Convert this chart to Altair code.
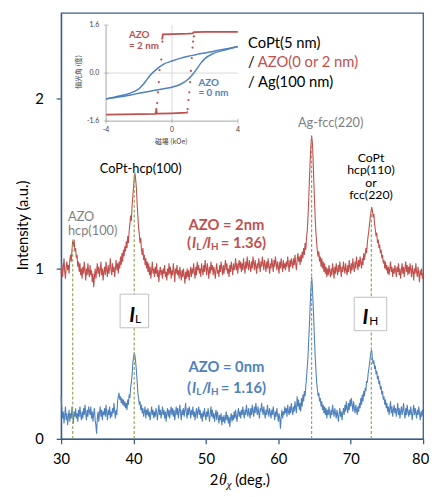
import altair as alt
import pandas as pd
import numpy as np

# ---------------- main XRD data (intensity x100), 2theta = 30.0 .. 80.0 step 0.1
TWO_THETA_START = 30.0
TWO_THETA_STEP = 0.1

red_vals = [
    97,103,95,100,106,98,94,101,104,99,
    102,97,105,108,104,111,116,113,117,110,
    112,106,108,101,104,98,103,96,100,94,
    101,97,104,99,93,100,96,103,98,95,
    102,96,99,92,97,89,95,100,94,98,
    103,97,101,95,99,104,96,100,93,98,
    101,96,104,99,95,102,97,100,106,99,
    96,103,98,101,95,100,105,99,103,97,
    104,100,107,102,109,104,111,107,113,110,
    116,112,119,115,122,126,131,128,137,142,
    148,153,156,152,147,138,131,124,120,115,
    118,111,108,112,105,108,102,106,100,104,
    98,103,96,101,94,99,104,97,100,95,
    101,97,103,95,99,92,98,101,96,99,
    94,100,97,102,95,98,93,100,96,103,
    97,101,94,99,96,103,98,92,100,97,
    102,96,99,94,101,97,93,99,95,100,
    96,91,98,94,100,95,99,93,97,101,
    95,100,97,103,98,94,101,96,104,99,
    102,97,100,95,103,99,96,102,98,105,
    100,96,103,99,94,101,97,104,99,102,
    96,101,98,94,100,103,97,99,95,102,
    98,104,100,96,102,97,101,105,99,103,
    97,100,95,102,98,104,100,96,103,99,
    101,106,99,103,97,102,105,100,104,98,
    103,99,106,101,97,104,100,107,102,99,
    105,101,98,104,100,107,103,99,105,101,
    97,103,100,106,102,98,104,101,107,103,
    99,105,102,98,104,100,106,101,97,103,
    100,106,102,98,105,101,107,103,99,104,
    101,97,104,100,106,102,98,105,100,103,
    99,104,101,107,102,98,105,101,106,103,
    100,106,102,108,103,99,105,109,104,107,
    102,108,104,110,106,112,108,115,111,118,
    122,130,140,152,163,172,178,174,165,152,
    140,129,121,115,110,107,110,104,107,101,
    106,100,104,98,103,97,101,95,100,96,
    102,98,95,100,96,103,99,94,101,97,
    103,99,96,102,98,104,100,95,101,98,
    104,100,97,103,99,96,102,98,105,101,
    97,103,99,106,101,98,104,100,107,103,
    99,105,101,107,103,100,106,102,109,105,
    108,112,109,115,119,122,126,130,133,136,
    134,130,132,126,123,119,121,115,117,112,
    114,109,111,106,108,103,105,100,104,99,
    102,97,101,96,100,104,98,101,95,100,
    97,102,99,95,101,98,103,96,100,94,
    99,103,97,101,95,100,104,98,102,96,
    101,97,103,99,95,102,98,93,100,97,
    103,98,95,101,97,92,99,96,100,94,
    97,
]

blue_vals = [
    25,18,12,16,9,14,19,11,15,8,
    13,17,10,15,12,19,14,9,16,13,
    18,12,15,10,17,13,19,14,11,16,
    12,18,14,20,15,11,17,13,19,16,
    14,19,12,16,10,15,18,11,8,3,
    12,16,10,15,19,13,17,11,16,14,
    18,13,20,15,11,17,14,19,12,16,
    13,18,15,21,16,12,17,14,22,25,
    27,23,25,21,24,20,23,19,22,18,
    21,17,23,20,26,24,30,33,37,44,
    48,50,49,45,40,34,27,24,20,22,
    17,20,15,18,13,16,19,12,17,14,
    18,13,16,11,15,19,14,17,12,16,
    13,18,15,11,16,20,14,17,12,15,
    19,14,17,12,16,10,15,18,13,17,
    12,16,19,14,18,13,17,11,15,19,
    14,18,12,16,20,15,11,17,14,18,
    13,17,21,15,12,18,14,19,16,12,
    17,14,19,13,16,11,15,18,12,16,
    19,14,17,12,15,10,16,13,18,14,
    11,16,13,18,14,10,15,19,13,17,
    12,15,10,14,17,11,16,13,9,14,
    11,15,8,13,10,14,9,12,16,11,
    14,9,13,7,12,15,10,14,11,16,
    12,17,13,10,15,18,13,16,12,17,
    14,19,15,12,17,14,20,16,13,18,
    15,12,18,14,20,16,13,19,15,21,
    17,14,19,15,12,18,16,21,17,14,
    19,15,12,17,14,20,16,13,18,15,
    12,17,14,19,15,11,16,13,18,14,
    10,15,12,6,13,17,12,16,14,19,
    15,18,13,20,16,14,19,15,21,17,
    14,19,16,22,18,15,25,19,23,17,
    21,16,24,19,26,22,28,25,31,36,
    42,48,58,67,78,88,95,90,80,70,
    58,48,40,33,29,25,27,22,24,19,
    22,17,20,15,19,14,18,12,17,14,
    19,15,12,17,14,20,16,13,18,15,
    12,17,14,10,15,18,13,16,11,15,
    18,14,20,16,22,18,15,21,17,23,
    19,24,20,16,22,18,15,20,17,14,
    19,16,21,18,24,20,26,22,28,25,
    30,28,34,33,38,41,44,48,51,52,
    47,44,46,41,43,38,40,35,37,32,
    34,29,31,26,28,23,25,20,23,18,
    21,16,19,14,18,22,15,19,13,17,
    20,15,18,13,17,21,14,18,12,16,
    19,14,17,21,15,12,18,14,20,16,
    13,17,14,19,15,11,16,20,14,18,
    15,12,17,14,19,15,11,16,13,17,
    14,
]

peak_pos = [31.6, 40.1, 64.6, 72.85]
peak_top = [1.17, 1.55, 1.77, 1.35]

x_ticks = [30, 40, 50, 60, 70, 80]
y_ticks = [0, 1, 2]

# ---------------- inset (Kerr loop) data
red_low_h = [-4.0, -2.0, -1.0, -0.95, -0.92, 0.0, 0.9, 0.95]
red_low_v = [-1.38, -1.37, -1.36, -1.22, -1.35, -1.34, -1.32, -1.28]
red_up_h = [-0.6, -0.55, 0.0, 1.0, 1.25, 1.33, 2.0, 4.0]
red_up_v = [1.12, 1.29, 1.30, 1.31, 1.32, 1.36, 1.37, 1.37]
red_dot_h = [-0.58, -0.65, -0.75, -0.8, -0.85, -0.9, -0.95,
             0.95, 1.0, 1.05, 1.1, 1.15, 1.2, 1.25, 1.28, 1.33]
red_dot_v = [1.05, 0.45, 0.10, -0.30, -0.64, -1.00, -1.20,
             -1.20, -0.90, -0.64, -0.30, 0.07, 0.50, 0.85, 1.05, 1.22]
blue_h = [-4, -3.5, -3, -2.5, -2, -1.75, -1.5, -1.25, -1, -0.5, 0, 0.5, 1, 1.25, 1.5, 1.75, 2, 2.5, 3, 3.5, 4]
blue_up_v = [-0.86, -0.80, -0.74, -0.66, -0.52, -0.38, -0.20, -0.03, 0.10, 0.30, 0.40, 0.49, 0.56, 0.59, 0.62, 0.65, 0.67, 0.72, 0.78, 0.83, 0.88]
blue_low_v = [-0.86, -0.82, -0.78, -0.73, -0.67, -0.645, -0.62, -0.595, -0.57, -0.52, -0.47, -0.38, -0.20, -0.05, 0.13, 0.33, 0.48, 0.65, 0.74, 0.81, 0.88]

# ---------------- colours / fonts
RED = "#C0504D"
BLUE = "#4F81BD"
GRAY = "#7F7F7F"
AXIS = "#385D8A"
DASH = "#93A75A"
FONT = "Lato"
SERIF = "Liberation Serif"
CJK = "Noto Sans CJK JP"

two_theta = np.round(TWO_THETA_START + TWO_THETA_STEP * np.arange(len(red_vals)), 2)
df_red = pd.DataFrame({"x": two_theta, "y": np.array(red_vals) / 100.0})
df_blue = pd.DataFrame({"x": two_theta[:len(blue_vals)], "y": np.array(blue_vals) / 100.0})
df_peaks = pd.DataFrame({"x": peak_pos, "y": [0.0] * len(peak_pos), "y2": peak_top})

xs = alt.Scale(domain=[30, 80], nice=False, zero=False)
ys = alt.Scale(domain=[0, 2.5], nice=False, zero=False)


def X(**kw):
    return alt.X("x:Q", scale=xs, **kw)


def Y(**kw):
    return alt.Y("y:Q", scale=ys, **kw)


blue_line = alt.Chart(df_blue).mark_line(color=BLUE, strokeWidth=1.1).encode(
    x=X(axis=alt.Axis(values=x_ticks, title=None, grid=False, labelPadding=8, format="d",
                      labelFlush=False, labelOverlap=False,
                      labelOffset={"expr": "datum.value == 80 ? -3 : 0"})),
    y=Y(axis=alt.Axis(values=y_ticks, title=None, grid=False, labelPadding=13, format="d",
                      labelFlush=False, labelOverlap=False)),
)
red_line = alt.Chart(df_red).mark_line(color=RED, strokeWidth=1.1).encode(x=X(), y=Y())
rules = alt.Chart(df_peaks).mark_rule(color=DASH, strokeDash=[3, 2], strokeWidth=1.2).encode(
    x=X(), y=Y(), y2="y2:Q")

df_boxes = pd.DataFrame({"x": [38.15, 70.49], "x2": [42.09, 74.97],
                         "y": [0.849, 0.831], "y2": [0.652, 0.635]})
boxes = alt.Chart(df_boxes).mark_rect(fill="white", stroke="#BFBFBF", strokeWidth=1).encode(
    x=X(), x2="x2:Q", y=Y(), y2="y2:Q")


def txt(rows, **kw):
    df = pd.DataFrame(rows, columns=["x", "y", "t"])
    return alt.Chart(df).mark_text(**kw).encode(x=X(), y=Y(), text="t:N")


gray_txt = txt([[30.95, 1.299, "AZO"], [30.95, 1.218, "hcp(100)"]],
               font=FONT, fontSize=13, color=GRAY, align="left")
ag_txt = txt([[67.23, 1.853, "Ag-fcc(220)"]], font=FONT, fontSize=13, color=GRAY, align="center")
black_txt = txt([[41.0, 1.582, "CoPt-hcp(100)"]],
                font=FONT, fontSize=13, color="black", align="center")
stack_copt = txt([[72.8, 1.651, "CoPt"], [72.8, 1.576, "hcp(110)"],
                  [72.8, 1.501, "or"], [72.8, 1.432, "fcc(220)"]],
                 font=FONT, fontSize=12.5, color="black", align="center")
stack_black = txt([[55.82, 2.321, "CoPt(5 nm)"], [55.82, 2.211, "/"], [55.82, 2.096, "/ Ag(100 nm)"]],
                  font=FONT, fontSize=15, color="black", align="left")
stack_red = txt([[57.17, 2.211, "AZO(0 or 2 nm)"]], font=FONT, fontSize=15, color=RED, align="left")


def ratio_layers(color, y_main, y_sub, y_title, title, value):
    t1 = txt([[52.83, y_title, title]], font=FONT, fontSize=15, fontWeight="bold", color=color, align="center")
    t2 = txt([[47.39, y_main, "("], [49.43, y_main, "/"], [52.05, y_main, "= " + value + ")"]],
             font=FONT, fontSize=15, fontWeight="bold", color=color, align="left")
    t3 = txt([[48.07, y_main, "I"], [50.11, y_main, "I"]],
             font=FONT, fontSize=15, fontWeight="bold", fontStyle="italic", color=color, align="left")
    t4 = txt([[48.68, y_sub, "L"], [50.72, y_sub, "H"]],
             font=FONT, fontSize=10, fontWeight="bold", color=color, align="left")
    return [t1, t2, t3, t4]


red_ratio = ratio_layers(RED, 1.149, 1.126, 1.253, "AZO = 2nm", "1.36")
blue_ratio = ratio_layers(BLUE, 0.300, 0.277, 0.421, "AZO = 0nm", "1.16")

box_I = txt([[39.81, 0.723, "I"], [72.04, 0.710, "I"]],
            font=FONT, fontSize=21, fontWeight="bold", fontStyle="italic", color="black", align="center")
box_sub = txt([[40.19, 0.704, "L"], [72.55, 0.690, "H"]],
              font=FONT, fontSize=12, color="black", align="left")

one = pd.DataFrame({"a": [0]})
y_title = alt.Chart(one).mark_text(text="Intensity (a.u.)", font=FONT, fontSize=15, angle=270,
                                   color="black").encode(x=alt.value(-39), y=alt.value(216))
XT_Y = 475
xt_2 = alt.Chart(one).mark_text(text="2", font=FONT, fontSize=15, align="left", color="black").encode(
    x=alt.value(151), y=alt.value(XT_Y))
xt_th = alt.Chart(one).mark_text(text="θ", font=SERIF, fontSize=16, fontStyle="italic", align="left",
                                 color="black").encode(x=alt.value(160.5), y=alt.value(XT_Y))
xt_chi = alt.Chart(one).mark_text(text="χ", font=SERIF, fontSize=11, fontStyle="italic", align="left",
                                  color="black").encode(x=alt.value(168.5), y=alt.value(XT_Y + 5))
xt_deg = alt.Chart(one).mark_text(text="(deg.)", font=FONT, fontSize=15, align="left", color="black").encode(
    x=alt.value(177), y=alt.value(XT_Y))

main = alt.layer(blue_line, red_line, rules, boxes, gray_txt, ag_txt, black_txt, stack_copt, stack_black,
                 stack_red, *red_ratio, *blue_ratio, box_I, box_sub, y_title, xt_2, xt_th, xt_chi, xt_deg)

# ---------------- inset
ixs = alt.Scale(domain=[-4, 4], range=[45.7, 179.7], nice=False, zero=False)
iys = alt.Scale(domain=[-1.6, 1.6], range=[110, 12.3], nice=False, zero=False)


def IX():
    return alt.X("h:Q", scale=ixs, axis=None)


def IY():
    return alt.Y("v:Q", scale=iys, axis=None)


grid_df = pd.DataFrame({"h": [0.0, -4.0], "v": [-1.6, 0.0], "h2": [0.0, 4.0], "v2": [1.6, 0.0]})
inset_grid = alt.Chart(grid_df).mark_rule(color="#D9D9D9", strokeWidth=1).encode(
    x=IX(), y=IY(), x2="h2:Q", y2="v2:Q")
axes_df = pd.DataFrame({"h": [-4.0, -4.0], "v": [-1.6, -1.6], "h2": [-4.0, 4.0], "v2": [1.6, -1.6]})
inset_axes = alt.Chart(axes_df).mark_rule(color="#A6A6A6", strokeWidth=1).encode(
    x=IX(), y=IY(), x2="h2:Q", y2="v2:Q")

inset_ticks = [-4, 0, 4]
inset_vticks = [-1.6, 0.0, 1.6]
ylab_df = pd.DataFrame({"h": [-4.0] * 3, "v": inset_vticks, "t": ["-1.6", "0.0", "1.6"]})
xlab_df = pd.DataFrame({"h": inset_ticks, "v": [-1.6] * 3, "t": ["-4", "0", "4"]})
inset_ylab = alt.Chart(ylab_df).mark_text(font=FONT, fontSize=7, color="#404040", align="right", dx=-7).encode(
    x=IX(), y=IY(), text="t:N")
inset_xlab = alt.Chart(xlab_df).mark_text(font=FONT, fontSize=7, color="#404040", dy=9).encode(
    x=IX(), y=IY(), text="t:N")
ytick_mk = alt.Chart(ylab_df).mark_tick(color="#A6A6A6", orient="horizontal", size=5, thickness=1).encode(
    x=IX(), y=IY())
xtick_mk = alt.Chart(xlab_df).mark_tick(color="#A6A6A6", orient="vertical", size=5, thickness=1).encode(
    x=IX(), y=IY())

red_low = alt.Chart(pd.DataFrame({"h": red_low_h, "v": red_low_v})).mark_line(color=RED, strokeWidth=1.8).encode(
    x=IX(), y=IY())
red_up = alt.Chart(pd.DataFrame({"h": red_up_h, "v": red_up_v})).mark_line(color=RED, strokeWidth=1.8).encode(
    x=IX(), y=IY())
red_dots = alt.Chart(pd.DataFrame({"h": red_dot_h, "v": red_dot_v})).mark_circle(
    color=RED, size=5, opacity=1).encode(x=IX(), y=IY())
blue_up = alt.Chart(pd.DataFrame({"h": blue_h, "v": blue_up_v})).mark_line(
    color=BLUE, strokeWidth=1.5, interpolate="monotone").encode(x=IX(), y=IY())
blue_low = alt.Chart(pd.DataFrame({"h": blue_h, "v": blue_low_v})).mark_line(
    color=BLUE, strokeWidth=1.5, interpolate="monotone").encode(x=IX(), y=IY())

ired = alt.Chart(pd.DataFrame({"h": [-2.61, -2.61], "v": [1.27, 0.91], "t": ["AZO", "= 2 nm"]})).mark_text(
    font=FONT, fontSize=10, fontWeight="bold", color=RED, align="left").encode(x=IX(), y=IY(), text="t:N")
iblue = alt.Chart(pd.DataFrame({"h": [1.61, 1.61], "v": [-0.32, -0.68], "t": ["AZO", "= 0 nm"]})).mark_text(
    font=FONT, fontSize=10, fontWeight="bold", color=BLUE, align="left").encode(x=IX(), y=IY(), text="t:N")

iy_title = alt.Chart(one).mark_text(text="偏光角 (度)", font=CJK, fontSize=7, angle=270, color="#404040").encode(
    x=alt.value(18), y=alt.value(60))
ix_title = alt.Chart(one).mark_text(text="磁場 (kOe)", font=CJK, fontSize=7, color="#404040").encode(
    x=alt.value(112), y=alt.value(131))

inset = alt.layer(inset_grid, inset_axes, ytick_mk, xtick_mk, inset_ylab, inset_xlab, blue_up, blue_low,
                  red_low, red_up, red_dots, ired, iblue, iy_title, ix_title)

chart = alt.layer(main, inset).resolve_scale(x="independent", y="independent").properties(
    width=368, height=433,
    padding={"left": 54, "top": 1, "right": 6, "bottom": 48},
    autosize=alt.AutoSizeParams(type="none"),
).configure_view(stroke=AXIS, strokeWidth=1.3).configure_axis(
    domainColor=AXIS, domainWidth=1.3, tickColor=AXIS, tickWidth=1.3, tickSize=5,
    labelFont=FONT, labelFontSize=15, labelColor="black",
)

chart.save("out.html", embed_options={"renderer": "svg", "actions": False})
